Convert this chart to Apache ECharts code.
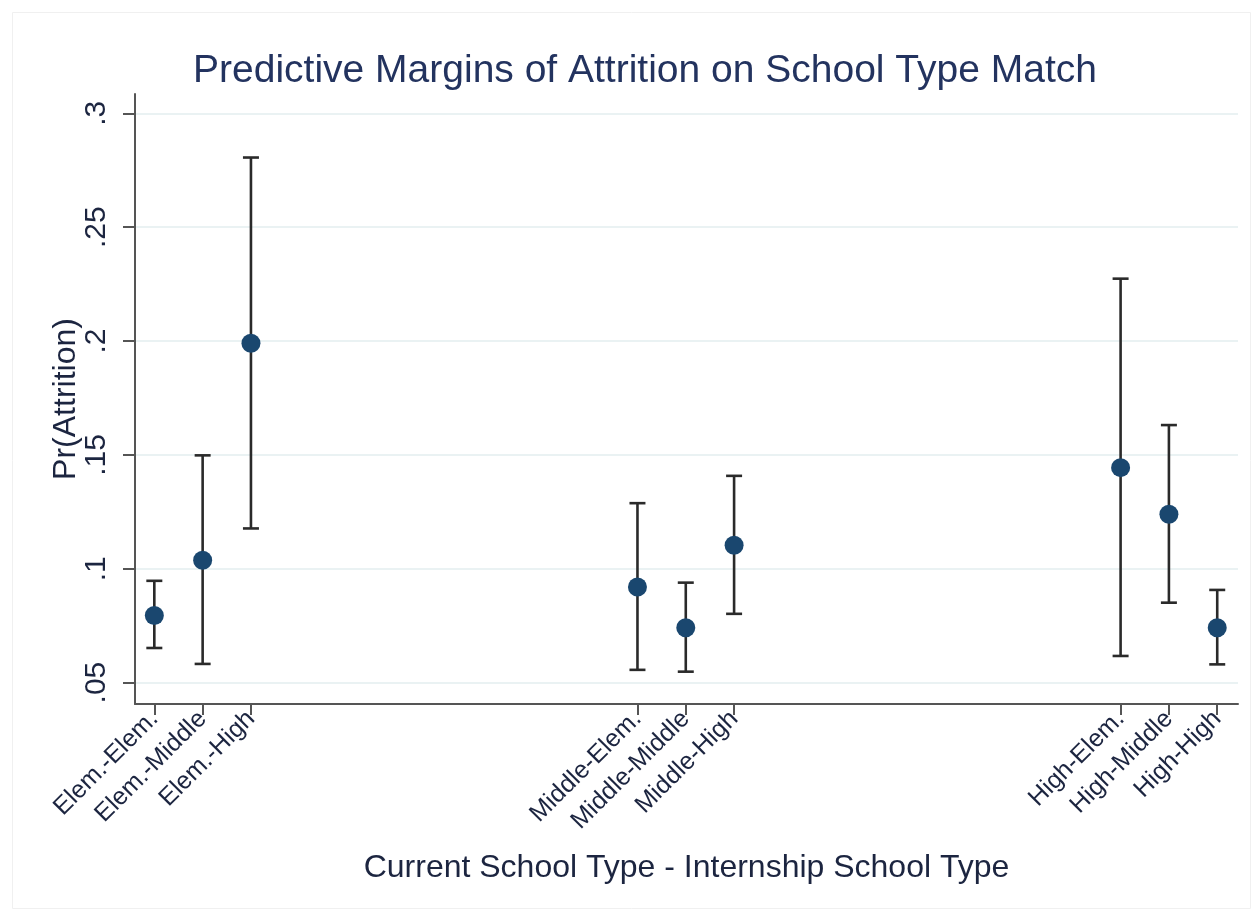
<!DOCTYPE html>
<html>
<head>
<meta charset="utf-8">
<script src="https://cdn.jsdelivr.net/npm/echarts@6/dist/echarts.min.js"></script>
<style>
html,body{margin:0;padding:0;background:#fff;}
#chart{width:1258px;height:916px;}
</style>
</head>
<body>
<div id="chart"></div>
<script>
// ---- data ----
const categories = ['Elem.-Elem.', 'Elem.-Middle', 'Elem.-High', 'Middle-Elem.', 'Middle-Middle', 'Middle-High', 'High-Elem.', 'High-Middle', 'High-High'];
const xPositions = [1, 2, 3, 11, 12, 13, 21, 22, 23];
const margins = [0.0795, 0.1037, 0.1990, 0.0920, 0.0741, 0.1103, 0.1444, 0.1239, 0.0741];
const ciLower = [0.0652, 0.0582, 0.1177, 0.0556, 0.0548, 0.0802, 0.0617, 0.0851, 0.0580];
const ciUpper = [0.0947, 0.1498, 0.2806, 0.1288, 0.0939, 0.1408, 0.2274, 0.1631, 0.0907];
const yTicks = [0.05, 0.1, 0.15, 0.2, 0.25, 0.3];
const titleText = 'Predictive Margins of Attrition on School Type Match';
const xTitle = 'Current School Type - Internship School Type';
const yTitle = 'Pr(Attrition)';

const FONT = '"Liberation Sans", Arial, sans-serif';
const TXT = '#1c2540';

const chart = echarts.init(document.getElementById('chart'), null, {renderer: 'canvas'});

const pointData = xPositions.map((x, i) => [x, margins[i]]);
const ciData = xPositions.map((x, i) => [x, ciLower[i], ciUpper[i]]);

function fmtY(v) {
  return String(+(+v).toFixed(3)).replace(/^0\./, '.');
}

const option = {
  backgroundColor: '#ffffff',
  animation: false,
  title: {
    text: titleText,
    left: 640,
    textAlign: 'center',
    top: 47,
    textStyle: {fontFamily: FONT, fontSize: 39, fontWeight: 'normal', color: '#23335f'}
  },
  graphic: [{
    type: 'rect', left: 10, top: 10, z: -10,
    shape: {width: 1238, height: 896},
    style: {fill: 'none', stroke: '#f0f0f0', lineWidth: 1}
  }],
  grid: {left: 135, right: 20, top: 94, bottom: 212, containLabel: false, outerBoundsMode: 'none'},
  xAxis: {
    type: 'value',
    min: 0.6,
    max: 23.43,
    name: xTitle,
    nameLocation: 'middle',
    nameGap: 148,
    nameMoveOverlap: false,
    nameTextStyle: {fontFamily: FONT, fontSize: 32, color: TXT},
    axisLine: {show: true, onZero: false, lineStyle: {color: '#555', width: 2}},
    axisTick: {show: true, length: 11, customValues: xPositions, lineStyle: {color: '#555', width: 2}},
    axisLabel: {
      customValues: xPositions,
      rotate: 45,
      margin: 11,
      fontFamily: FONT, fontSize: 25, color: TXT,
      hideOverlap: false,
      formatter: function (v) {
        const i = xPositions.indexOf(Math.round(v));
        return i >= 0 ? categories[i] : '';
      }
    },
    splitLine: {show: false}
  },
  yAxis: {
    type: 'value',
    min: 0.0406,
    max: 0.3085,
    name: yTitle,
    nameLocation: 'middle',
    nameGap: 53,
    nameMoveOverlap: false,
    nameRotate: 90,
    nameTextStyle: {fontFamily: FONT, fontSize: 32, color: TXT},
    axisLine: {show: true, onZero: false, lineStyle: {color: '#555', width: 2}},
    axisTick: {show: true, length: 12, customValues: yTicks, lineStyle: {color: '#555', width: 2}},
    axisLabel: {
      customValues: yTicks,
      rotate: 90,
      margin: 23,
      fontFamily: FONT, fontSize: 30, color: TXT,
      formatter: fmtY
    },
    splitLine: {show: true, lineStyle: {color: '#eaf2f3', width: 2}}
  },
  series: [
    {
      type: 'custom',
      data: ciData,
      z: 2,
      renderItem: function (params, api) {
        const x = api.value(0);
        const lo = api.coord([x, api.value(1)]);
        const hi = api.coord([x, api.value(2)]);
        const hw = 8;
        const st = {stroke: '#2a2a2a', lineWidth: 2.6};
        return {
          type: 'group',
          children: [
            {type: 'line', shape: {x1: lo[0], y1: lo[1], x2: hi[0], y2: hi[1]}, style: st},
            {type: 'line', shape: {x1: hi[0] - hw, y1: hi[1], x2: hi[0] + hw, y2: hi[1]}, style: st},
            {type: 'line', shape: {x1: lo[0] - hw, y1: lo[1], x2: lo[0] + hw, y2: lo[1]}, style: st}
          ]
        };
      }
    },
    {
      type: 'scatter',
      data: pointData,
      z: 3,
      symbol: 'circle',
      symbolSize: 19,
      itemStyle: {color: '#1a476f', opacity: 1}
    }
  ]
};
chart.setOption(option);
</script>
</body>
</html>
